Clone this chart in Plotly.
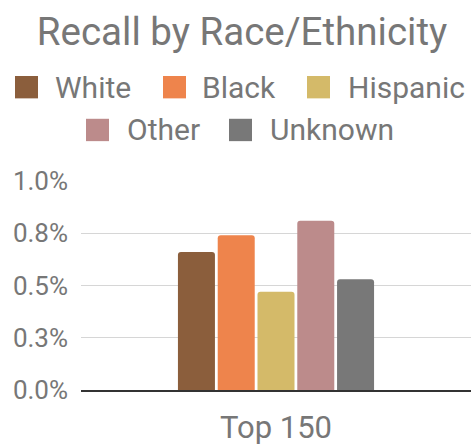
import plotly.graph_objects as go

# ---- data ----
categories = ["Top 150"]
series_names = ["White", "Black", "Hispanic", "Other", "Unknown"]
white = [0.0066]
black = [0.0074]
hispanic = [0.0047]
other = [0.0081]
unknown = [0.0053]
series_values = [white, black, hispanic, other, unknown]
tick_vals = [0, 0.0025, 0.005, 0.0075, 0.01]
tick_text = ["0.0%", "0.3%", "0.5%", "0.8%", "1.0%"]

colors = ["#8B5E3C", "#EE844C", "#D4BA69", "#BC8B8B", "#787878"]
grey = "#777777"
font_family = "Roboto"

W, H = 471, 446
L, R, T, B = 81, 0, 181, 50
plot_w = W - L - R
plot_h = H - T - B

def px(x):
    return (x - L) / plot_w

def py(y):
    return (H - B - y) / plot_h

fig = go.Figure()
for name, vals, col in zip(series_names, series_values, colors):
    fig.add_trace(go.Bar(x=categories, y=vals, name=name,
                         marker=dict(color=col, line=dict(width=0)),
                         showlegend=False))

# custom legend (rows centered like the reference)
legend_rows = [[(0, 15, 53), (1, 163, 200), (2, 307, 346)],
               [(3, 86, 125), (4, 229, 268)]]
row_centers = [84.5, 128.5]
sq = 23
for row, yc in zip(legend_rows, row_centers):
    for idx, sx, tx in row:
        fig.add_shape(type="rect", xref="paper", yref="paper",
                      x0=px(sx), x1=px(sx + sq), y0=py(yc + sq / 2), y1=py(yc - sq / 2),
                      fillcolor=colors[idx], line=dict(width=0), layer="above")
        fig.add_annotation(x=px(tx), y=py(yc), xref="paper", yref="paper",
                           text=series_names[idx], showarrow=False,
                           xanchor="left", yanchor="middle",
                           font=dict(family=font_family, size=30, color=grey))

fig.update_layout(
    width=W, height=H,
    margin=dict(l=L, r=R, t=T, b=B),
    paper_bgcolor="white", plot_bgcolor="white",
    barmode="group", bargap=0.49, bargroupgap=0.07,
    barcornerradius=3,
    showlegend=False,
    font=dict(family=font_family, color=grey),
    title=dict(text="Recall by Race/Ethnicity", x=242 / W, xref="container",
               xanchor="center", y=1 - 31.5 / H, yref="container", yanchor="middle",
               font=dict(family=font_family, size=38.5, color=grey)),
)
fig.update_yaxes(range=[0, 0.01], tickvals=tick_vals, ticktext=tick_text,
                 showgrid=True, gridcolor="#d6d6d6", gridwidth=1,
                 zeroline=False, showline=False, ticks="",
                 ticklabelstandoff=12,
                 tickfont=dict(family=font_family, size=26, color=grey))
fig.update_xaxes(showline=True, linecolor="#333333", linewidth=2,
                 ticks="", ticklabelstandoff=9,
                 tickfont=dict(family=font_family, size=31, color=grey))

fig.write_html("out.html", config={"displayModeBar": False},
               post_script="document.body.style.margin='0';document.body.style.overflow='hidden';")
